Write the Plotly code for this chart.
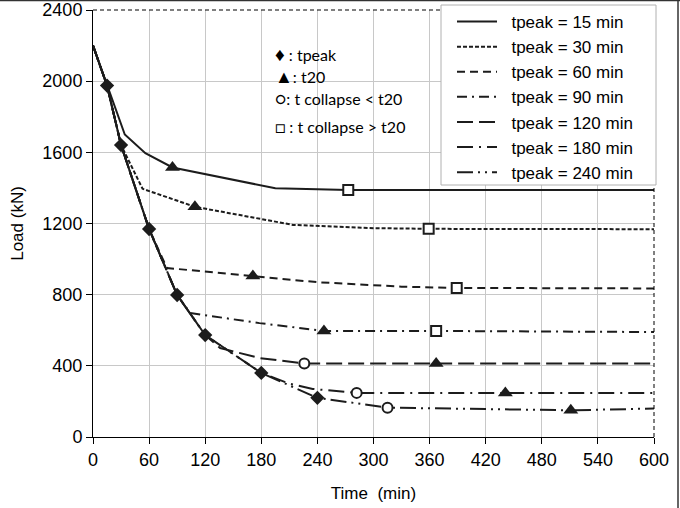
import plotly.graph_objects as go

# ---- data ----
t15 = [0, 15, 34, 56, 85, 195, 273, 600]
y15 = [2200, 1975, 1700, 1595, 1515, 1398, 1388, 1388]

t30 = [0, 15, 30, 53, 109, 214, 300, 359, 600]
y30 = [2200, 1975, 1641, 1395, 1294, 1192, 1174, 1170, 1168]

t60 = [0, 15, 30, 60, 79, 171, 240, 330, 389, 600]
y60 = [2200, 1975, 1641, 1169, 950, 905, 870, 845, 838, 835]

t90 = [0, 15, 30, 60, 90, 104, 178, 247, 367, 600]
y90 = [2200, 1975, 1641, 1169, 798, 697, 640, 596, 596, 590]

t120 = [0, 15, 30, 60, 90, 120, 136, 178, 226, 367, 600]
y120 = [2200, 1975, 1641, 1169, 798, 573, 500, 444, 413, 413, 413]

t180 = [0, 15, 30, 60, 90, 120, 180, 210, 235, 282, 441, 600]
y180 = [2200, 1975, 1641, 1169, 798, 573, 360, 300, 270, 248, 248, 248]

t240 = [0, 15, 30, 60, 90, 120, 180, 240, 315, 420, 511, 600]
y240 = [2200, 1975, 1641, 1169, 798, 573, 360, 220, 165, 158, 150, 160]

names = ["tpeak = 15 min", "tpeak = 30 min", "tpeak = 60 min", "tpeak = 90 min",
         "tpeak = 120 min", "tpeak = 180 min", "tpeak = 240 min"]

# markers
tpeak_t = [15, 30, 60, 90, 120, 180, 240]
tpeak_y = [1975, 1641, 1169, 798, 573, 360, 220]
t20_t = [85, 109, 171, 247, 367, 441, 511]
t20_y = [1515, 1294, 905, 596, 413, 248, 150]
coll_lt_t = [226, 282, 315]
coll_lt_y = [413, 248, 165]
coll_gt_t = [273, 359, 389, 367]
coll_gt_y = [1388, 1170, 838, 596]

xticks = list(range(0, 601, 60))
yticks = list(range(0, 2401, 400))

dashes = ["solid", "4px,2px", "8px,5px", "10px,5px,2px,5px",
          "16px,6px", "16px,6px,2px,6px", "16px,5px,2px,5px,2px,5px"]

LC = "#1c1c1c"
fig = go.Figure()
series = [(t15, y15), (t30, y30), (t60, y60), (t90, y90),
          (t120, y120), (t180, y180), (t240, y240)]
for i, ((tx, ty), nm, ds) in enumerate(zip(series, names, dashes)):
    fig.add_trace(go.Scatter(x=tx, y=ty, mode="lines", name="\u00a0\u00a0" + nm,
                             line=dict(color=LC, width=2, dash=ds)))

fig.add_trace(go.Scatter(x=tpeak_t, y=tpeak_y, mode="markers", showlegend=False,
                         marker=dict(symbol="diamond", size=11, color=LC)))
fig.add_trace(go.Scatter(x=t20_t, y=t20_y, mode="markers", showlegend=False,
                         marker=dict(symbol="triangle-up", size=13, color=LC)))
fig.add_trace(go.Scatter(x=coll_lt_t, y=coll_lt_y, mode="markers", showlegend=False,
                         marker=dict(symbol="circle", size=10, color="white",
                                     line=dict(color=LC, width=2))))
fig.add_trace(go.Scatter(x=coll_gt_t, y=coll_gt_y, mode="markers", showlegend=False,
                         marker=dict(symbol="square", size=10, color="white",
                                     line=dict(color=LC, width=2))))

W, H = 680, 508
L, R, T, B = 93, 26, 10, 71
pw, ph = W - L - R, H - T - B

def px(x):
    return (x - L) / pw

def py(y):
    return (H - B - y) / ph

FONT = "Liberation Sans, Arial, sans-serif"
fig.update_layout(
    width=W, height=H,
    margin=dict(l=L, r=R, t=T, b=B, autoexpand=False),
    paper_bgcolor="white", plot_bgcolor="white",
    font=dict(family=FONT, size=18, color="black"),
    showlegend=True,
    legend=dict(x=px(452), y=py(4), xanchor="left", yanchor="top",
                bgcolor="rgba(0,0,0,0)", borderwidth=0,
                font=dict(family=FONT, size=17), itemwidth=40),
    xaxis=dict(range=[0, 600], tickvals=xticks, showgrid=True, gridcolor="#c8c8c8",
               gridwidth=1, zeroline=False, showline=True, linecolor="black",
               linewidth=1, ticks="outside", ticklen=6, tickcolor="black",
               title=dict(text="Time  (min)", font=dict(size=17), standoff=18)),
    yaxis=dict(range=[0, 2400], tickvals=yticks, showgrid=True, gridcolor="#c8c8c8",
               gridwidth=1, zeroline=False, showline=True, linecolor="black",
               linewidth=1, ticks="outside", ticklen=6, tickcolor="black",
               title=dict(text="Load (kN)", font=dict(size=17), standoff=14)),
)

shapes = [
    dict(type="line", xref="paper", yref="paper", x0=0, x1=1, y0=1, y1=1,
         line=dict(color="black", width=1, dash="4px,3px")),
    dict(type="line", xref="paper", yref="paper", x0=1, x1=1, y0=0, y1=1,
         line=dict(color="black", width=1, dash="4px,3px")),
    dict(type="rect", xref="paper", yref="paper", x0=px(441), x1=px(656),
         y0=py(185), y1=py(5), fillcolor="white", line=dict(color="#b0b0b0", width=1),
         layer="above"),
    dict(type="line", xref="paper", yref="paper", x0=px(0), x1=px(W), y0=py(0.5), y1=py(0.5),
         line=dict(color="#333333", width=1.5)),
    dict(type="line", xref="paper", yref="paper", x0=px(678), x1=px(678), y0=py(0), y1=py(H),
         line=dict(color="#333333", width=1.5)),
]
fig.update_layout(shapes=shapes)

ann_font = dict(family="Lato", size=16, color="black")
ann = [("<span style='font-size:19px'>♦</span> : tpeak", 53),
       ("<span style='font-size:18px'>▲</span>: t20", 76),
       ("<span style='font-size:17px'>○</span>: t collapse < t20", 98),
       ("<span style='font-size:17px'>□</span> : t collapse > t20", 127)]
for txt, yy in ann:
    fig.add_annotation(x=px(273), y=py(yy), xref="paper", yref="paper", text=txt,
                       showarrow=False, xanchor="left", yanchor="middle", font=ann_font)

fig.write_html("out.html")
